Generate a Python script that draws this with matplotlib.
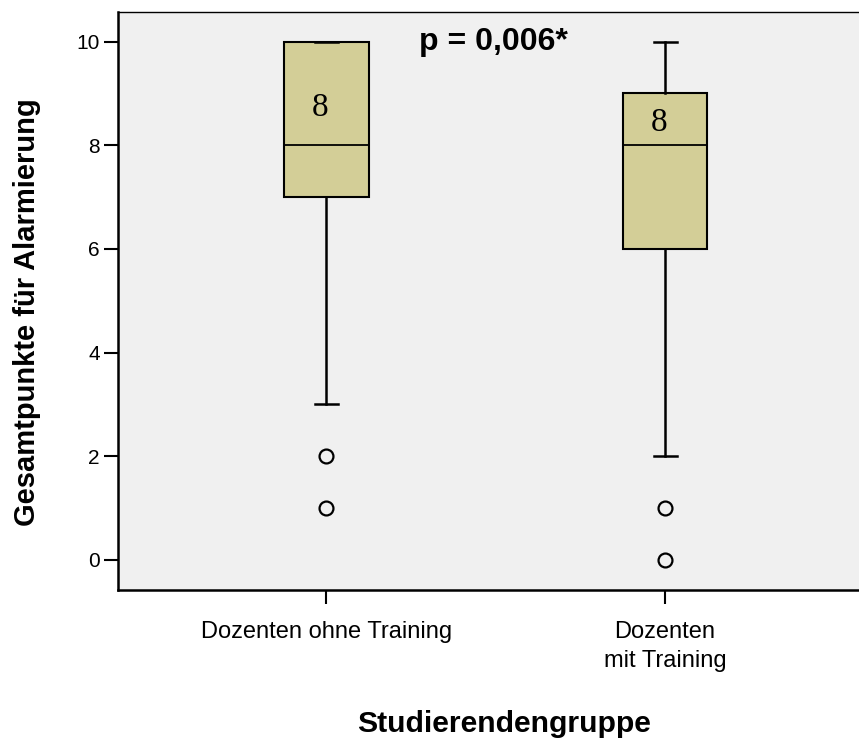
import matplotlib
matplotlib.use("Agg")
import matplotlib.pyplot as plt

# Box statistics
groups = ["Dozenten ohne Training", "Dozenten\nmit Training"]
whisker_low = [3, 2]
q1 = [7, 6]
medians = [8, 8]
q3 = [10, 9]
whisker_high = [10, 10]
outliers = [[2, 1], [1, 0]]
median_labels = ["8", "8"]
median_label_y = [8.73, 8.43]
p_text = "p = 0,006*"

plt.rcParams["font.family"] = ["Liberation Sans", "DejaVu Sans"]

fig = plt.figure(figsize=(8.59, 7.46), dpi=100)
ax = fig.add_axes([118 / 859, 156 / 746, 741 / 859, 578 / 746])
ax.set_facecolor("#f0f0f0")

stats = []
for i in range(len(groups)):
    stats.append({
        "whislo": whisker_low[i], "q1": q1[i], "med": medians[i],
        "q3": q3[i], "whishi": whisker_high[i], "fliers": outliers[i],
    })

positions = [1, 2]
ax.bxp(stats, positions=positions, widths=0.25, capwidths=0.068,
       patch_artist=True, showfliers=True,
       boxprops=dict(facecolor="#d3ce97", edgecolor="black", linewidth=1.5),
       medianprops=dict(color="black", linewidth=1.3),
       whiskerprops=dict(color="black", linewidth=1.8),
       capprops=dict(color="black", linewidth=1.8),
       flierprops=dict(marker="o", markersize=10, markerfacecolor="none",
                       markeredgecolor="black", markeredgewidth=1.6))

for i, pos in enumerate(positions):
    ax.text(pos - 0.018, median_label_y[i], median_labels[i], ha="center", va="center",
            fontsize=24, family=["Liberation Serif", "DejaVu Serif"])

ax.text(1.495, 10, p_text, ha="center", va="center", fontsize=23, fontweight="bold")

ax.set_xlim(0.386, 2.572)
ax.set_ylim(-0.58, 10.57)
ax.set_yticks([0, 2, 4, 6, 8, 10])
ax.set_xticks(positions)
ax.set_xticklabels(groups, fontsize=17, linespacing=1.45)
ax.tick_params(axis="y", labelsize=15, length=10, width=1.5, pad=3)
ax.tick_params(axis="x", length=10, width=1.5, pad=12)

ax.spines["right"].set_visible(False)
ax.spines["top"].set_linewidth(1.0)
ax.spines["left"].set_linewidth(1.8)
ax.spines["bottom"].set_linewidth(1.8)

fig.text(27 / 859, (746 - 312) / 746, "Gesamtpunkte für Alarmierung", rotation=90,
         ha="center", va="center", fontsize=21, fontweight="bold")
fig.text(504 / 859, (746 - 724) / 746, "Studierendengruppe",
         ha="center", va="center", fontsize=21.7, fontweight="bold")

fig.savefig("out.png", dpi=100)
